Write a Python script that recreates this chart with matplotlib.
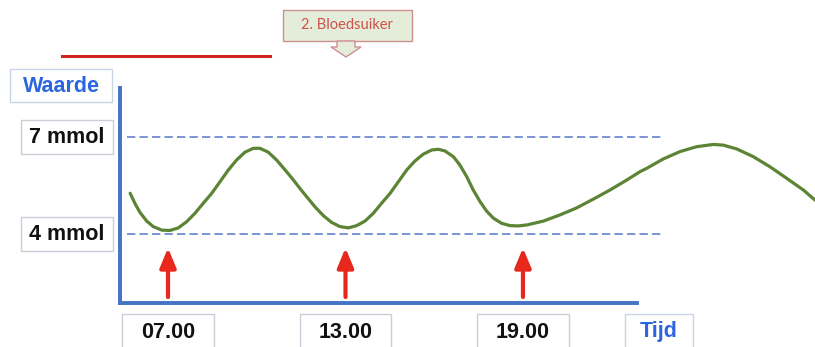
import matplotlib
matplotlib.use("Agg")
import matplotlib.pyplot as plt
import matplotlib.transforms as mtransforms
from matplotlib.patches import Rectangle, Polygon

# Schematic blood sugar curve over the day (hours, mmol/l)
hours = [5.72, 5.88, 6.05, 6.28, 6.50, 6.79, 7.07, 7.35, 7.63, 7.91, 8.19, 8.48,
         8.76, 9.04, 9.32, 9.60, 9.88, 10.11, 10.39, 10.67, 10.96, 11.24, 11.46,
         11.69, 11.97, 12.25, 12.53, 12.81, 13.10, 13.38, 13.66, 13.94, 14.22,
         14.51, 14.79, 15.07, 15.35, 15.63, 15.92, 16.14, 16.36, 16.65, 16.87,
         17.10, 17.32, 17.55, 17.77, 18.00, 18.28, 18.56, 18.84, 19.13, 19.69,
         20.25, 20.82, 21.38, 21.94, 22.51, 22.96, 23.18, 23.74, 24.31, 24.87,
         25.44, 25.77, 26.23, 26.79, 27.35, 27.92, 28.48, 28.87]
sugar = [5.26, 4.95, 4.67, 4.40, 4.23, 4.12, 4.11, 4.19, 4.38, 4.64, 4.95, 5.26,
         5.62, 5.98, 6.29, 6.53, 6.65, 6.65, 6.53, 6.29, 5.98, 5.67, 5.41,
         5.15, 4.84, 4.57, 4.36, 4.23, 4.19, 4.26, 4.40, 4.64, 4.95,
         5.26, 5.62, 5.98, 6.26, 6.47, 6.60, 6.62, 6.57, 6.39, 6.13,
         5.77, 5.36, 5.00, 4.71, 4.49, 4.33, 4.26, 4.25, 4.28, 4.40,
         4.59, 4.81, 5.08, 5.36, 5.67, 5.93, 6.03, 6.32, 6.55, 6.70,
         6.77, 6.75, 6.63, 6.39, 6.08, 5.72, 5.36, 5.05]

meal_times = [7, 13, 19]
meal_labels = ["07.00", "13.00", "19.00"]
levels = [7, 4]
level_labels = ["7 mmol", "4 mmol"]

BLUE = "#4472c4"
TXT_BLUE = "#2b66e0"
GREEN = "#5c8435"
RED = "#e8281c"
DASH = "#6283cc"

fig = plt.figure(figsize=(8.15, 3.47), dpi=100)
plt.rcParams["font.family"] = ["Liberation Sans", "DejaVu Sans"]

# overlay in pixel units for decorations
deco = fig.add_axes([0, 0, 1, 1], zorder=0)
deco.set_xlim(0, 815)
deco.set_ylim(347, 0)
deco.axis("off")

ax = fig.add_axes([120 / 815, 1 - 303 / 347, 517 / 815, 215 / 347], zorder=1)
ax.patch.set_visible(False)
ax.set_xlim(5.377, 22.855)
ax.set_ylim(1.866, 8.516)
for s in ["top", "right"]:
    ax.spines[s].set_visible(False)
for s in ["left", "bottom"]:
    ax.spines[s].set_color(BLUE)
    ax.spines[s].set_linewidth(2.8)
ax.set_xticks([])
ax.set_yticks([])

# reference levels
for lv in levels:
    ax.plot([5.6, 23.7], [lv, lv], color=DASH, lw=1.2, ls=(0, (5, 2.5)), clip_on=False)

# the curve
ax.plot(hours, sugar, color=GREEN, lw=2.3, clip_on=False,
        solid_capstyle="round", solid_joinstyle="round")

# meal arrows
for t in meal_times:
    ax.annotate("", xy=(t, 3.57), xytext=(t, 2.05),
                arrowprops=dict(arrowstyle="-|>,head_length=0.65,head_width=0.27",
                                color=RED, lw=3, mutation_scale=18,
                                shrinkA=0, shrinkB=0))

# time labels with boxes
xtrans = mtransforms.blended_transform_factory(ax.transData, deco.transData)
for t, lab in zip(meal_times, meal_labels):
    deco.add_patch(Rectangle((t - 1.54, 314), 3.08, 40, transform=xtrans,
                             fc="white", ec="#c9ced8", lw=1, clip_on=False))
    deco.text(t, 332, lab, transform=xtrans, ha="center", va="center",
              fontsize=15.5, fontweight="bold", color="#111111")

# level labels with boxes
ytrans = mtransforms.blended_transform_factory(deco.transData, ax.transData)
for lv, lab in zip(levels, level_labels):
    deco.add_patch(Rectangle((21, lv - 0.52), 92, 1.04, transform=ytrans,
                             fc="white", ec="#c9ced8", lw=1))
    deco.text(67, lv - 0.02, lab, transform=ytrans, ha="center", va="center",
              fontsize=15.5, fontweight="bold", color="#111111")

# axis titles
deco.add_patch(Rectangle((10, 69), 102, 33, fc="white", ec="#c9d3ea", lw=1))
deco.text(61, 86, "Waarde", ha="center", va="center", fontsize=15.5,
          fontweight="bold", color=TXT_BLUE)
deco.add_patch(Rectangle((625, 314), 68, 40, fc="white", ec="#c9d3ea", lw=1, clip_on=False))
deco.text(659, 332, "Tijd", ha="center", va="center", fontsize=15.5,
          fontweight="bold", color=TXT_BLUE)

# red line and callout at the top
deco.plot([62, 270], [56, 56], color="#d0271d", lw=2.2)
deco.add_patch(Rectangle((283, 10), 129, 31, fc="#e4edd9", ec="#cf8f8f", lw=1))
deco.add_patch(Polygon([(337, 41), (355, 41), (355, 47), (361, 47), (346, 57),
                        (331, 47), (337, 47)], closed=True,
                       fc="#e4edd9", ec="#cf8f8f", lw=1))
deco.text(347, 25, "2. Bloedsuiker", ha="center", va="center", fontsize=10.5,
          color="#d0504a", family=["Lato", "DejaVu Sans"])

fig.savefig("out.png", dpi=100)
